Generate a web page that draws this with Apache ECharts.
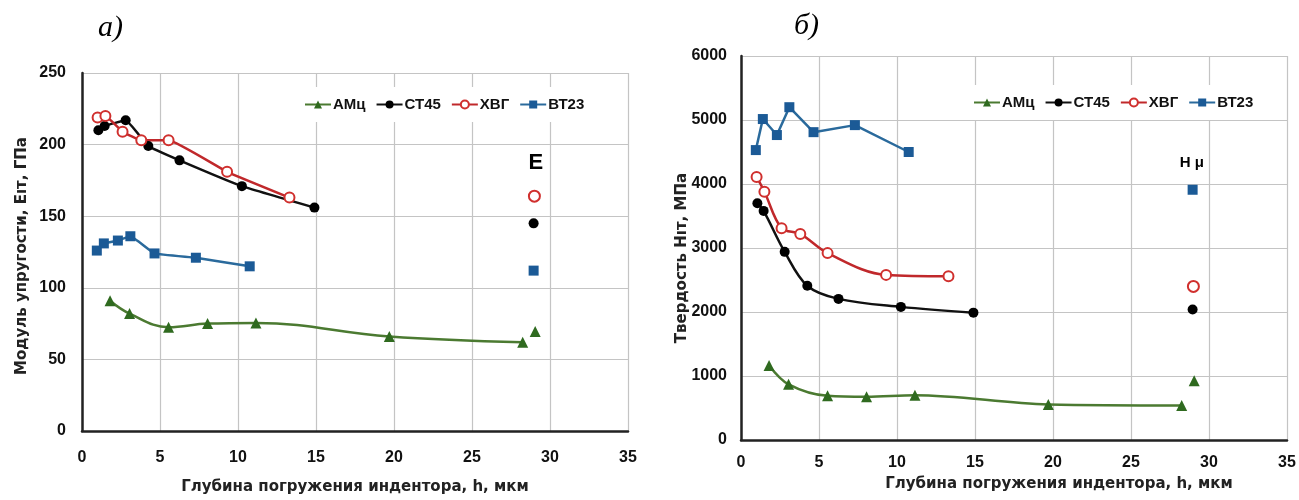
<!DOCTYPE html>
<html>
<head>
<meta charset="utf-8">
<script src="https://cdn.jsdelivr.net/npm/echarts@6/dist/echarts.min.js"></script>
<style>
  html, body { margin: 0; padding: 0; background: #fff; }
  #chart { width: 1299px; height: 500px; }
</style>
</head>
<body>
<div id="chart"></div>
<script>
// глубина погружения индентора, мкм
var depthAmc = [1.8, 3.05, 5.55, 8.05, 11.15, 19.7, 28.25];
var depthSt45 = [1.05, 1.45, 2.8, 4.25, 6.25, 10.25, 14.9];
var depthHvg = [1.0, 1.5, 2.6, 3.8, 5.55, 9.3, 13.3];
var depthVt23 = [0.95, 1.4, 2.3, 3.1, 4.65, 7.3, 10.75];

// модуль упругости E, ГПа
var eAmc = [91, 82, 72.5, 75, 75.5, 66, 62];
var eSt45 = [210, 213, 217, 199, 189, 171, 156];
var eHvg = [219, 220, 209, 203, 203, 181, 163];
var eVt23 = [126, 131, 133, 136, 124, 121, 115];

// твердость H, МПа
var hAmc = [1165, 870, 690, 675, 700, 555, 540];
var hSt45 = [3700, 3580, 2940, 2410, 2205, 2080, 1990];
var hHvg = [4110, 3880, 3310, 3220, 2920, 2580, 2560];
var hVt23 = [4530, 5015, 4765, 5200, 4810, 4920, 4500];

// отдельные точки (E и H μ) при h ~ 29 мкм
var isoDepth = [29.05, 28.95, 29.0, 28.95];
var isoE = [69.5, 145, 164, 112];
var isoH = [925, 2040, 2400, 3910];

var names = ['АМц', 'СТ45', 'ХВГ', 'ВТ23'];
var xTicks = { min: 0, max: 35, interval: 5 };
var eTicks = { min: 0, max: 250, interval: 50 };
var hTicks = { min: 0, max: 6000, interval: 1000 };

var font = 'Liberation Sans';
var titleFont = 'DejaVu Sans';
var colors = {
    'АМц': { line: '#4b7a31', mark: '#2f6a1f', symbol: 'triangle', size: 11 },
    'СТ45': { line: '#111111', mark: '#000000', symbol: 'circle', size: 10 },
    'ХВГ': { line: '#c0282b', mark: '#d0302e', symbol: 'emptyCircle', size: 10 },
    'ВТ23': { line: '#2a6a9c', mark: '#1b5a96', symbol: 'rect', size: 10 }
};

function pts(xs, ys) {
    return xs.map(function (x, i) { return [x, ys[i]]; });
}

function lineSeries(name, idx, xs, ys, smooth) {
    var c = colors[name];
    return {
        name: name,
        type: 'line',
        xAxisIndex: idx,
        yAxisIndex: idx,
        data: pts(xs, ys),
        smooth: smooth,
        symbol: c.symbol,
        symbolSize: c.size,
        showAllSymbol: true,
        lineStyle: { color: c.line, width: 2.5 },
        itemStyle: c.symbol == 'emptyCircle'
            ? { color: c.mark, borderColor: c.mark, borderWidth: 2 }
            : { color: c.mark },
        z: 3
    };
}

function isoSeries(name, idx, x, y) {
    var c = colors[name];
    return {
        name: name,
        type: 'scatter',
        xAxisIndex: idx,
        yAxisIndex: idx,
        data: [[x, y]],
        symbol: c.symbol,
        symbolSize: c.symbol == 'emptyCircle' ? 11 : c.size,
        itemStyle: c.symbol == 'emptyCircle'
            ? { color: c.mark, borderColor: c.mark, borderWidth: 3, opacity: 1 }
            : { color: c.mark, opacity: 1 },
        z: 3
    };
}

function noteSeries(idx, pos, text, size) {
    return {
        type: 'scatter',
        xAxisIndex: idx,
        yAxisIndex: idx,
        data: [pos],
        symbolSize: 0,
        silent: true,
        itemStyle: { opacity: 1 },
        label: {
            show: true,
            position: 'inside',
            formatter: text,
            color: '#000',
            fontFamily: font,
            fontWeight: 'bold',
            fontSize: size
        }
    };
}

function xAxisCfg(idx, nameGap, pad) {
    return {
        type: 'value',
        gridIndex: idx,
        min: xTicks.min, max: xTicks.max, interval: xTicks.interval,
        name: 'Глубина погружения индентора, h, мкм',
        nameLocation: 'middle',
        nameGap: nameGap,
        nameTextStyle: { fontFamily: titleFont, fontWeight: 'bold', fontSize: 15, color: '#222', padding: pad },
        axisLine: { show: true, onZero: false, lineStyle: { color: '#222', width: 2.5 } },
        axisTick: { show: false },
        axisLabel: { fontFamily: font, fontWeight: 'bold', fontSize: 16, color: '#111', margin: idx == 0 ? 19 : 15 },
        splitLine: { show: true, lineStyle: { color: '#c4c4c4', width: 1.2 } }
    };
}

function yAxisCfg(idx, t) {
    return {
        type: 'value',
        gridIndex: idx,
        min: t.min, max: t.max, interval: t.interval,
        axisLine: { show: true, lineStyle: { color: '#222', width: 2.5 } },
        axisTick: { show: false },
        axisLabel: {
            fontFamily: font, fontWeight: 'bold', fontSize: 16, color: '#111',
            margin: idx == 0 ? 16 : 14,
            formatter: function (v) { return String(v); }
        },
        splitLine: { show: true, lineStyle: { color: '#c4c4c4', width: 1.2 } }
    };
}

var eDepths = [depthAmc, depthSt45, depthHvg, depthVt23];
var eVals = [eAmc, eSt45, eHvg, eVt23];
var hVals = [hAmc, hSt45, hHvg, hVt23];

var series = [];
names.forEach(function (n, i) {
    series.push(lineSeries(n, 0, eDepths[i], eVals[i], i == 0 ? 0.4 : 0.1));
    series.push(isoSeries(n, 0, isoDepth[i], isoE[i]));
});
names.forEach(function (n, i) {
    series.push(lineSeries(n, 1, eDepths[i], hVals[i], i == 3 ? 0 : 0.35));
    series.push(isoSeries(n, 1, isoDepth[i], isoH[i]));
});
series.push(noteSeries(0, [29.1, 187], 'E', 22));
series.push(noteSeries(1, [28.9, 4330], 'H μ', 15));

var legendCfg = function (left, top) {
    return {
        data: names,
        left: left,
        top: top,
        itemGap: 10,
        itemWidth: 26,
        itemHeight: 10,
        padding: [10, 8],
        backgroundColor: '#fff',
        selectedMode: false,
        textStyle: { fontFamily: font, fontWeight: 'bold', fontSize: 15, color: '#111', padding: [0, 0, 0, -3] }
    };
};

var chart = echarts.init(document.getElementById('chart'));
chart.setOption({
    animation: false,
    backgroundColor: '#fff',
    grid: [
        { left: 82, top: 73, width: 546, height: 360 },
        { left: 741, top: 56, width: 546, height: 384 }
    ],
    xAxis: [xAxisCfg(0, 49, [0, 0, 0, 0]), xAxisCfg(1, 37, [0, 0, 0, 90])],
    yAxis: [yAxisCfg(0, eTicks), yAxisCfg(1, hTicks)],
    legend: [legendCfg(296, 87), legendCfg(965, 85)],
    graphic: [
        { type: 'text', left: 98, top: 13, style: { text: 'а)', font: 'italic 30px "Liberation Serif"', fill: '#000' } },
        { type: 'text', left: 794, top: 11, style: { text: 'б)', font: 'italic 30px "Liberation Serif"', fill: '#000' } },
        { type: 'text', x: 22, y: 256, rotation: Math.PI / 2,
          style: { text: 'Модуль упругости, Eıт, ГПа', font: 'bold 15px "DejaVu Sans"', fill: '#222', align: 'center', verticalAlign: 'middle' } },
        { type: 'text', x: 682, y: 258, rotation: Math.PI / 2,
          style: { text: 'Твердость Нıт, МПа', font: 'bold 15px "DejaVu Sans"', fill: '#222', align: 'center', verticalAlign: 'middle' } }
    ],
    series: series
});
</script>
</body>
</html>
